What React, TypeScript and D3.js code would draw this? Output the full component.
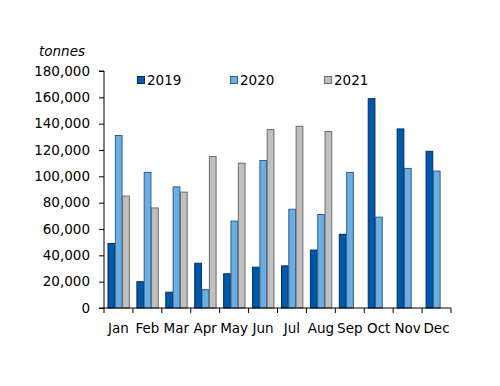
import * as d3 from 'd3';
import { useEffect, useRef } from 'react';

const months = ['Jan', 'Feb', 'Mar', 'Apr', 'May', 'Jun', 'Jul', 'Aug', 'Sep', 'Oct', 'Nov', 'Dec'];
const series = ['2019', '2020', '2021'];
const values2019 = [49000, 20000, 12000, 34000, 26000, 31000, 32000, 44000, 56000, 159000, 136000, 119000];
const values2020 = [131000, 103000, 92000, 14000, 66000, 112000, 75000, 71000, 103000, 69000, 106000, 104000];
const values2021 = [85000, 76000, 88000, 115000, 110000, 135500, 138000, 134000, null, null, null, null];
const yTicks = [0, 20000, 40000, 60000, 80000, 100000, 120000, 140000, 160000, 180000];

const fills = ['#0058a8', '#6aaee2', '#c0c0c0'];
const strokes = ['#0b2c5c', '#2f5f8f', '#6a6a6a'];

const width = 500;
const height = 386;
const font = 'DejaVu Sans, Verdana, sans-serif';

const App = () => {
  const svgRef = useRef<SVGSVGElement>(null);

  useEffect(() => {
    const svg = d3.select(svgRef.current);
    svg.selectAll('*').remove();

    const left = 104;
    const right = 451;
    const top = 71;
    const bottom = 308;

    const x = d3.scaleBand().domain(months).range([left, right]).paddingInner(0).paddingOuter(0);
    const inner = d3.scaleBand().domain(series).range([0, x.bandwidth() * 0.76]);
    const offset = (x.bandwidth() - inner.range()[1]) / 2;
    const y = d3.scaleLinear().domain([0, 180000]).range([bottom, top]);

    const data = [values2019, values2020, values2021];

    // bars
    data.forEach((vals, si) => {
      svg
        .append('g')
        .selectAll('rect')
        .data(months.map((m, i) => ({ m, v: vals[i] })).filter((d) => d.v != null))
        .enter()
        .append('rect')
        .attr('x', (d) => (x(d.m) as number) + offset + (inner(series[si]) as number) + 0.5)
        .attr('y', (d) => y(d.v as number))
        .attr('width', inner.bandwidth() - 0.6)
        .attr('height', (d) => bottom - y(d.v as number))
        .attr('fill', fills[si])
        .attr('stroke', strokes[si])
        .attr('stroke-width', 1);
    });

    // y axis
    const yAxis = svg
      .append('g')
      .attr('transform', `translate(${left},0)`)
      .call(
        d3
          .axisLeft(y)
          .tickValues(yTicks)
          .tickSize(5)
          .tickPadding(9)
          .tickFormat((d) => d3.format(',')(d as number))
      );
    yAxis.select('.domain').attr('stroke', '#000').attr('d', `M-5,${top}H0V${bottom}H-5`);
    yAxis.selectAll('text').attr('font-family', font).attr('font-size', 13.5).attr('fill', '#000');

    // x axis
    const xAxis = svg.append('g').attr('transform', `translate(0,${bottom})`);
    xAxis.append('line').attr('x1', left).attr('x2', right).attr('y1', 0).attr('y2', 0).attr('stroke', '#000');
    xAxis
      .selectAll('line.tick')
      .data([...months.map((m) => x(m) as number), right])
      .enter()
      .append('line')
      .attr('class', 'tick')
      .attr('x1', (d) => d)
      .attr('x2', (d) => d)
      .attr('y1', 0)
      .attr('y2', 5)
      .attr('stroke', '#000');
    xAxis
      .selectAll('text')
      .data(months)
      .enter()
      .append('text')
      .attr('x', (d) => (x(d) as number) + x.bandwidth() / 2)
      .attr('y', 25)
      .attr('text-anchor', 'middle')
      .attr('font-family', font)
      .attr('font-size', 13.5)
      .text((d) => d);

    // unit label
    svg
      .append('text')
      .attr('x', 62)
      .attr('y', 56)
      .attr('text-anchor', 'middle')
      .attr('font-family', font)
      .attr('font-size', 13.5)
      .attr('font-style', 'italic')
      .text('tonnes');

    // legend
    const legendX = [137, 230, 324];
    const legend = svg
      .append('g')
      .selectAll('g')
      .data(series)
      .enter()
      .append('g')
      .attr('transform', (d, i) => `translate(${legendX[i]},76)`);
    legend
      .append('rect')
      .attr('x', 0.5)
      .attr('y', 0.5)
      .attr('width', 7)
      .attr('height', 7)
      .attr('fill', (d, i) => fills[i])
      .attr('stroke', (d, i) => strokes[i]);
    legend
      .append('text')
      .attr('x', 10)
      .attr('y', 8.5)
      .attr('font-family', font)
      .attr('font-size', 13.5)
      .text((d) => d);
  }, []);

  return <svg ref={svgRef} width={width} height={height} style={{ position: 'absolute', left: 0, top: 0, background: '#fff' }} />;
};

export default App;
